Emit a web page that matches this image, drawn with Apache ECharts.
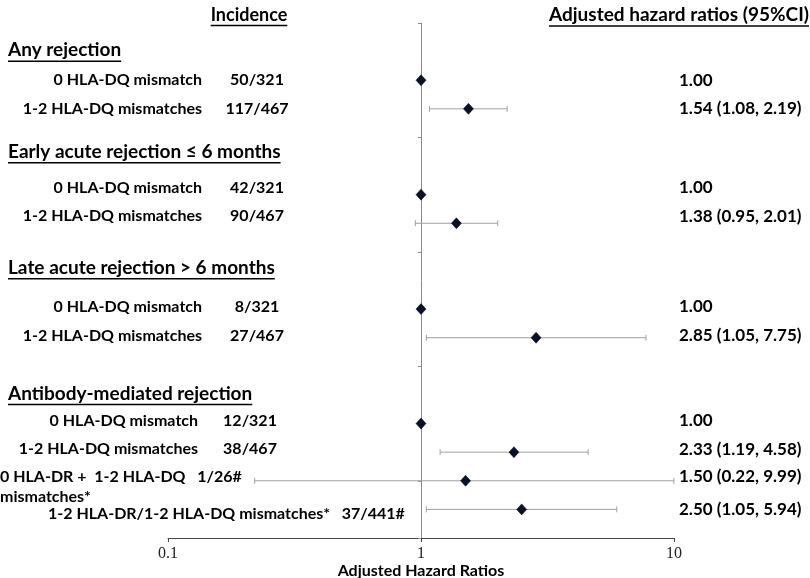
<!DOCTYPE html>
<html><head><meta charset="utf-8">
<script src="https://cdn.jsdelivr.net/npm/echarts@6/dist/echarts.min.js"></script>
<style>html,body{margin:0;padding:0;background:#fff}#c{width:810px;height:578px}</style>
</head><body><div id="c"></div>
<script>
// ---- data ----
var rowIndex   = [0, 1, 4, 5, 8, 9, 12, 13, 14, 15];
var hazard     = [1.00, 1.54, 1.00, 1.38, 1.00, 2.85, 1.00, 2.33, 1.50, 2.50];
var ciLow      = [null, 1.08, null, 0.95, null, 1.05, null, 1.19, 0.22, 1.05];
var ciHigh     = [null, 2.19, null, 2.01, null, 7.75, null, 4.58, 9.99, 5.94];
var rowLabels  = ['0 HLA-DQ mismatch', '1-2 HLA-DQ mismatches', '0 HLA-DQ mismatch', '1-2 HLA-DQ mismatches',
                  '0 HLA-DQ mismatch', '1-2 HLA-DQ mismatches', '0 HLA-DQ mismatch', '1-2 HLA-DQ mismatches',
                  '0 HLA-DR +  1-2 HLA-DQ   1/26#', '1-2 HLA-DR/1-2 HLA-DQ mismatches*   37/441#'];
var incidence  = ['50/321', '117/467', '42/321', '90/467', '8/321', '27/467', '12/321', '38/467', '', ''];
var hrText     = ['1.00', '1.54 (1.08, 2.19)', '1.00', '1.38 (0.95, 2.01)', '1.00', '2.85 (1.05, 7.75)',
                  '1.00', '2.33 (1.19, 4.58)', '1.50 (0.22, 9.99)', '2.50 (1.05, 5.94)'];
var sections   = ['Any rejection', 'Early acute rejection \u2264 6 months', 'Late acute rejection > 6 months', 'Antibody-mediated rejection'];
var xTicks     = [0.1, 1, 10];
var xTitle     = 'Adjusted Hazard Ratios';
var colHeaders = ['Incidence', 'Adjusted hazard ratios (95%CI)'];

// ---- layout ----
var ROW_OFF = 2;
var sectionRows = [-1.05, 2.5, 6.55, 10.95];
var textShift = [0, 0, -0.25, -0.25, -0.08, -0.08, -0.1, -0.1, -0.15, 0];
var FONT = 'Lato';
var INK = '#000';
var chart = echarts.init(document.getElementById('c'));
var gridL = 168, gridR = 136, gridT = 23, gridB = 40;
var gridW = 810 - gridL - gridR;

var pts = [], bars = [];
for (var i = 0; i < rowIndex.length; i++) {
  pts.push([hazard[i], rowIndex[i] + ROW_OFF]);
  if (ciLow[i] != null) bars.push([ciLow[i], ciHigh[i], rowIndex[i] + ROW_OFF]);
}

chart.setOption({
  animation: false,
  grid: {left: gridL, right: gridR, top: gridT, bottom: gridB, containLabel: false, outerBoundsMode: 'none'},
  xAxis: {
    type: 'log', logBase: 10, min: xTicks[0], max: xTicks[xTicks.length - 1],
    position: 'bottom',
    name: xTitle, nameLocation: 'middle', nameGap: 25, nameMoveOverlap: false,
    nameTextStyle: {fontFamily: FONT, fontWeight: 'bold', fontSize: 16, color: INK},
    axisLine: {onZero: false, lineStyle: {color: '#444', width: 1}},
    axisTick: {show: true, length: 4, lineStyle: {color: '#444'}},
    axisLabel: {fontFamily: 'Liberation Serif', fontSize: 16, color: '#222', margin: 8},
    splitLine: {show: false}
  },
  yAxis: {
    type: 'value', inverse: true, min: 0, max: 18, interval: 4,
    offset: -gridW / 2,
    axisLine: {show: true, lineStyle: {color: '#8a8a8a', width: 1}},
    axisTick: {show: true, length: 3, lineStyle: {color: '#8a8a8a'}},
    axisLabel: {show: false},
    splitLine: {show: false}
  },
  series: [
    {
      type: 'custom',
      data: bars,
      z: 2,
      renderItem: function (params, api) {
        var a = api.coord([api.value(0), api.value(2)]);
        var b = api.coord([api.value(1), api.value(2)]);
        var s = {stroke: '#a0a0a0', lineWidth: 1};
        var h = 3;
        return {type: 'group', children: [
          {type: 'line', shape: {x1: a[0], y1: a[1], x2: b[0], y2: b[1]}, style: s},
          {type: 'line', shape: {x1: a[0], y1: a[1] - h, x2: a[0], y2: a[1] + h}, style: s},
          {type: 'line', shape: {x1: b[0], y1: b[1] - h, x2: b[0], y2: b[1] + h}, style: s}
        ]};
      }
    },
    {
      type: 'scatter', data: pts, symbol: 'diamond', symbolSize: [10, 11], z: 5,
      itemStyle: {color: '#06122a', opacity: 1, borderColor: '#000', borderWidth: 0.5}
    }
  ]
});

// ---- texts ----
var cv = document.createElement('canvas').getContext('2d');
function tw(txt, size) { cv.font = 'bold ' + size + 'px ' + FONT; return cv.measureText(txt).width; }
function yOf(r) { return chart.convertToPixel({gridIndex: 0}, [1, r + ROW_OFF])[1]; }
var g = [];
function txt(t, x, y, size, align) {
  g.push({type: 'text', x: x, y: y, style: {text: t, font: 'bold ' + size + 'px ' + FONT, fill: INK,
    textAlign: align || 'left', textVerticalAlign: 'middle'}});
}
function uline(t, x, y, size, align) {
  txt(t, x, y, size, align);
  var w = tw(t, size);
  var x0 = align === 'center' ? x - w / 2 : (align === 'right' ? x - w : x);
  g.push({type: 'line', shape: {x1: x0, y1: y + size * 0.58, x2: x0 + w, y2: y + size * 0.58},
    style: {stroke: INK, lineWidth: 1.5}});
}
uline(colHeaders[0], 249, 15, 18, 'center');
uline(colHeaders[1], 809, 15, 19, 'right');
for (var s = 0; s < sections.length; s++) uline(sections[s], 8, yOf(sectionRows[s]), 19, 'left');
for (var i = 0; i < rowIndex.length; i++) {
  var y = yOf(rowIndex[i] + textShift[i]);
  if (i < 8) {
    var rx = i < 6 ? 202 : 198;
    txt(rowLabels[i], rx, y, 16, 'right');
    txt(incidence[i], i < 6 ? 257 : 250, y, 16, 'center');
  } else if (i === 8) {
    txt(rowLabels[i], 0, y, 16, 'left');
    txt('mismatches*', 0, y + 20, 16, 'left');
  } else {
    txt(rowLabels[i], 48, y + 4, 16, 'left');
  }
  txt(hrText[i], 679, y, 17, 'left');
}
chart.setOption({graphic: g});
</script></body></html>
